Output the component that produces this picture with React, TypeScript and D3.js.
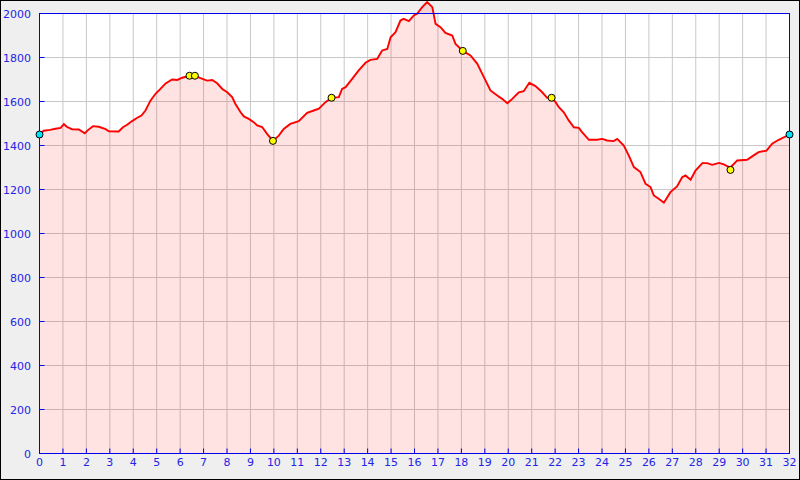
import React from "react";
import * as d3 from "d3";

const distanceKm = [
  0, 0.18, 0.45, 0.68, 0.9, 1.04, 1.18, 1.39, 1.68, 1.93, 2.08, 2.28, 2.53, 2.82, 2.96, 3.38, 3.56, 3.74, 3.95, 4.17, 4.35, 4.52, 4.74, 4.95, 5.16, 5.38,
  5.66, 5.88, 6.09, 6.4, 6.63, 6.87, 7.15, 7.37, 7.58, 7.8, 8.01, 8.22, 8.36, 8.58, 8.72, 8.93, 9.14, 9.29, 9.5, 9.71, 9.96,
  10.21, 10.42, 10.7, 11.06, 11.42, 11.7, 11.92, 12.2, 12.46, 12.77, 12.91, 13.06, 13.34, 13.62, 13.91, 14.12, 14.41, 14.62, 14.84, 14.98,
  15.19, 15.4, 15.54, 15.76, 15.97, 16.11, 16.33, 16.54, 16.76, 16.9, 17.11, 17.32, 17.61, 17.75, 18.06, 18.39, 18.68, 18.96, 19.24, 19.53,
  19.74, 19.96, 20.17, 20.45, 20.66, 20.9, 21.16, 21.45, 21.66, 21.85, 22.02, 22.16, 22.37, 22.58, 22.8, 23.01, 23.15, 23.44, 23.79, 24.01,
  24.22, 24.5, 24.65, 24.93, 25.14, 25.36, 25.64, 25.86, 26.07, 26.21, 26.42, 26.64, 26.92, 27.2, 27.42, 27.56, 27.78, 27.99, 28.28,
  28.49, 28.7, 28.99, 29.2, 29.34, 29.48, 29.56, 29.77, 30.19, 30.47, 30.68, 31.02, 31.26, 31.54, 32,
];
const elevationM = [
  1450, 1467, 1471, 1476, 1480, 1497, 1484, 1474, 1473, 1456, 1471, 1488, 1485, 1474, 1465, 1464, 1483, 1494, 1511, 1526, 1536, 1559, 1605, 1635, 1657, 1682,
  1700, 1698, 1708, 1717, 1717, 1706, 1695, 1698, 1683, 1657, 1642, 1620, 1589, 1551, 1532, 1521, 1506, 1491, 1484, 1453, 1421,
  1445, 1475, 1498, 1511, 1548, 1559, 1567, 1597, 1617, 1620, 1657, 1665, 1703, 1741, 1776, 1789, 1794, 1832, 1839, 1892,
  1915, 1968, 1976, 1965, 1991, 1999, 2029, 2052, 2029, 1953, 1938, 1912, 1900, 1862, 1830, 1809, 1771, 1711, 1650, 1627,
  1612, 1592, 1612, 1642, 1647, 1685, 1670, 1642, 1617, 1617, 1597, 1574, 1551, 1514, 1483, 1480, 1461, 1426, 1426, 1430,
  1423, 1420, 1430, 1400, 1355, 1302, 1279, 1226, 1211, 1173, 1158, 1140, 1188, 1214, 1256, 1264, 1244, 1286, 1320,
  1320, 1312, 1321, 1314, 1306, 1300, 1309, 1332, 1335, 1355, 1370, 1377, 1408, 1426, 1450,
];

const endpointKm = [0, 32];
const endpointElev = [1450, 1450];
const waypointKm = [6.4, 6.63, 9.96, 12.46, 18.06, 21.85, 29.48];
const waypointElev = [1717, 1717, 1421, 1617, 1830, 1617, 1289];

const xTicks = d3.range(0, 33, 1);
const yTicks = d3.range(0, 2001, 200);

export default function App() {
  const W = 800, H = 480;
  const x = d3.scaleLinear().domain([0, 32]).range([39.5, 789.5]);
  const y = d3.scaleLinear().domain([0, 2000]).range([453.5, 13.5]);
  const pts: [number, number][] = distanceKm.map((d, i) => [d, elevationM[i]]);
  const line = d3.line<[number, number]>().x((d) => x(d[0])).y((d) => y(d[1]));
  const area = d3.area<[number, number]>().x((d) => x(d[0])).y0(y(0)).y1((d) => y(d[1]));
  const blue = "#0000ee";
  const textBlue = "#2424e6";
  const font = "DejaVu Sans, sans-serif";
  return (
    <svg width={W} height={H} style={{ position: "absolute", left: 0, top: 0 }} xmlns="http://www.w3.org/2000/svg">
      <rect x={0.5} y={0.5} width={W - 1} height={H - 1} fill="#efefef" stroke="#000" />
      <rect x={x(0)} y={y(2000)} width={x(32) - x(0)} height={y(0) - y(2000)} fill="#fff" />
      <g stroke="#c8c8c8" strokeWidth={1}>
        {xTicks.slice(1, -1).map((t) => (
          <line key={"gx" + t} x1={x(t)} x2={x(t)} y1={y(0)} y2={y(2000)} />
        ))}
        {yTicks.slice(1, -1).map((t) => (
          <line key={"gy" + t} x1={x(0)} x2={x(32)} y1={y(t)} y2={y(t)} />
        ))}
      </g>
      <path d={area(pts) || ""} fill="#ff0000" fillOpacity={0.11} />
      <path d={line(pts) || ""} fill="none" stroke="#ff0000" strokeWidth={1.9} strokeLinejoin="miter" />
      <g stroke={blue} strokeWidth={1} fill="none">
        <rect x={x(0)} y={y(2000)} width={x(32) - x(0)} height={y(0) - y(2000)} />
        {xTicks.map((t) => (
          <line key={"tx" + t} x1={x(t)} x2={x(t)} y1={y(0)} y2={y(0) - 5} />
        ))}
        {yTicks.map((t) => (
          <line key={"ty" + t} x1={x(0)} x2={x(0) + 5} y1={y(t)} y2={y(t)} />
        ))}
      </g>
      <g fontFamily={font} fontSize={11} fill={textBlue}>
        {xTicks.map((t) => (
          <text key={"lx" + t} x={x(t)} y={466} textAnchor="middle">{t}</text>
        ))}
        {yTicks.map((t) => (
          <text key={"ly" + t} x={31} y={y(t) + 4} textAnchor="end">{t}</text>
        ))}
      </g>
      <g stroke="#000" strokeWidth={1}>
        {waypointKm.map((k, i) => (
          <circle key={"w" + i} cx={x(k)} cy={y(waypointElev[i])} r={3.5} fill="#ffff00" />
        ))}
        {endpointKm.map((k, i) => (
          <circle key={"e" + i} cx={x(k)} cy={y(endpointElev[i])} r={3.5} fill="#00e5ff" />
        ))}
      </g>
    </svg>
  );
}
